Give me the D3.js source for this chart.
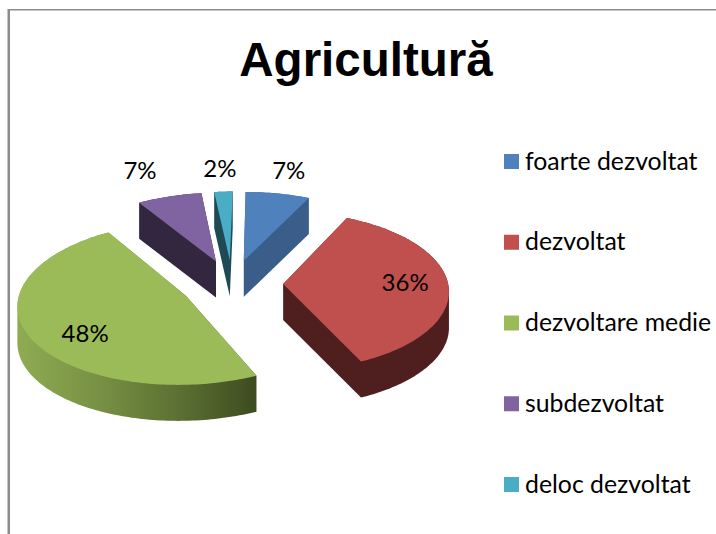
<!DOCTYPE html>
<html><head><meta charset="utf-8">
<script src="https://cdn.jsdelivr.net/npm/d3@7/dist/d3.min.js"></script>
<style>html,body{margin:0;padding:0;background:#fff}svg{display:block}</style>
</head><body><svg id="c" width="716" height="534"></svg>
<script>
const title = "Agricultură";
const categories = ["foarte dezvoltat","dezvoltat","dezvoltare medie","subdezvoltat","deloc dezvoltat"];
const values = [7,36,48,7,2];
const topColors = ["#4f81bd","#c0504d","#9bbb59","#8064a2","#4bacc6"];
const wallColors = ["#3a5d8a","#4f1f1f","url(#greenWall)","#32273f","#1e4a55"];
const labelOffsets = [[45,-90],[122,-1],[-101,38],[-76,-91],[-10,-91]];

const cx=232, cy=284, A=165, B=78.8, P=0.089, U0=0.21, EXPLODE=0.31, DEPTH=36;
const svg=d3.select("#c");
const defs=svg.append("defs");
const g=defs.append("linearGradient").attr("id","greenWall").attr("gradientUnits","userSpaceOnUse")
  .attr("x1",19).attr("x2",260).attr("y1",0).attr("y2",0);
[[0,"#8fab52"],[0.35,"#768f43"],[0.7,"#586c31"],[1,"#3c4a1f"]].forEach(s=>g.append("stop").attr("offset",s[0]).attr("stop-color",s[1]));

// frame
svg.append("line").attr("x1",8.75).attr("x2",8.75).attr("y1",9).attr("y2",534).attr("stroke","#8c8c8c").attr("stroke-width",2.5);
svg.append("line").attr("x1",8).attr("x2",716).attr("y1",9.75).attr("y2",9.75).attr("stroke","#8c8c8c").attr("stroke-width",1.5);

svg.append("text").attr("x",366).attr("y",76).attr("text-anchor","middle")
  .attr("font-family","'Liberation Sans',Arial,sans-serif").attr("font-weight","bold").attr("font-size",47.5).attr("fill","#000").text(title);

const pie=d3.pie().sort(null).value(d=>d)(values);
function project(u,v){
  const d=1+P*v;
  return [cx+A*U0+A*(u-U0)/d, cy-B*v/d];
}
const slices=pie.map((p,i)=>{
  const mid=(p.startAngle+p.endAngle)/2;
  const au=EXPLODE*Math.sin(mid), av=EXPLODE*Math.cos(mid);
  const n=Math.max(8,Math.ceil((p.endAngle-p.startAngle)/0.02));
  const pts=[project(au,av)];
  d3.range(n+1).forEach(k=>{
    const t=p.startAngle+(p.endAngle-p.startAngle)*k/n;
    pts.push(project(au+Math.sin(t),av+Math.cos(t)));
  });
  return {i,ax:pts[0][0],ay:pts[0][1],pts};
});
const line=d3.line().curve(d3.curveLinearClosed);
const order=[3,4,0,2,1];
order.forEach(i=>{
  const s=slices[i];
  const hull=d3.polygonHull(s.pts.concat(s.pts.map(q=>[q[0],q[1]+DEPTH])));
  svg.append("path").attr("d",line(hull)).attr("fill",wallColors[i]);
  svg.append("path").attr("d",line(s.pts)).attr("fill",topColors[i]);
});
slices.forEach(s=>{
  svg.append("text").attr("x",s.ax+labelOffsets[s.i][0]).attr("y",s.ay+labelOffsets[s.i][1]+8)
   .attr("text-anchor","middle").attr("font-family","Lato,'Open Sans',sans-serif").attr("font-size",24).attr("fill","#000")
   .text(values[s.i]+"%");
});
const ly=d3.scalePoint().domain(categories).range([161.5,484.5]);
categories.forEach((c,i)=>{
  svg.append("rect").attr("x",504).attr("y",ly(c)-7.5).attr("width",15).attr("height",15).attr("fill",topColors[i]);
  svg.append("text").attr("x",525).attr("y",ly(c)+8).attr("font-family","Lato,'Open Sans',sans-serif").attr("font-size",24.8).attr("fill","#000").text(c);
});
</script></body></html>
